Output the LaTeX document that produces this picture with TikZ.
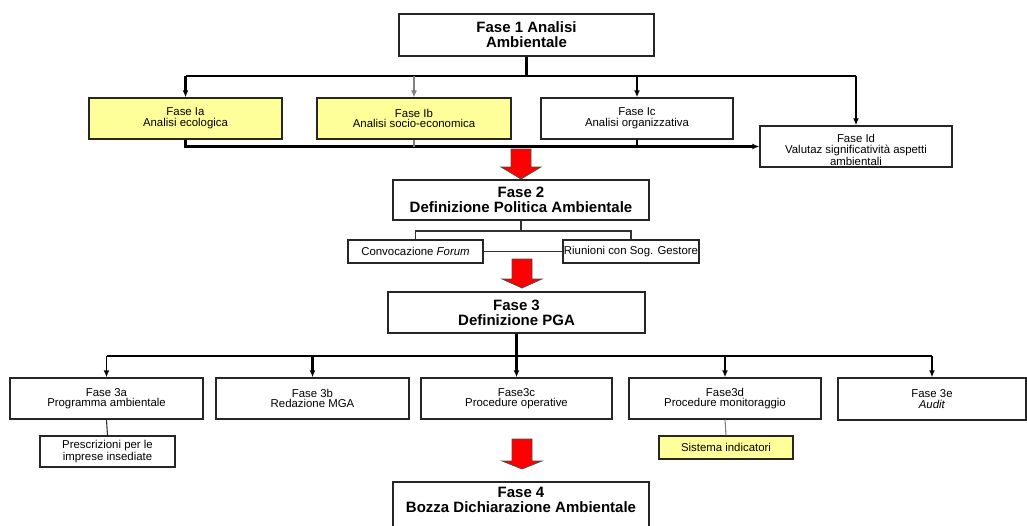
\documentclass[tikz,border=0pt]{standalone}
\usepackage{fontspec}
\setmainfont{Liberation Sans}
\usetikzlibrary{arrows.meta}
\definecolor{boxyellow}{RGB}{255,255,153}
\begin{document}
\begin{tikzpicture}[x=1pt,y=-1pt,
  box/.style={draw=black!85, line width=1.4pt, fill=white, inner sep=0pt, align=center, font=\fontsize{11.4}{10.5}\selectfont},
  ybox/.style={box, fill=boxyellow},
  bigbox/.style={box, font=\bfseries\fontsize{15}{15}\selectfont},
  conn/.style={line width=2.2pt, draw=black},
  mid/.style={line width=1.6pt, draw=black},
  thinl/.style={line width=1.1pt, draw=black!80},
  tip/.style={-{Latex[length=7pt,width=6pt]}},
  redarrow/.style={fill=red, draw=black!70, line width=0.7pt, line join=miter},
]
\useasboundingbox (0,0) rectangle (1027,525);

% Fase 1
\node[bigbox, minimum width=255pt, minimum height=42pt] (f1) at (526.5,35) {Fase 1 Analisi\\Ambientale};
\node[ybox, minimum width=193pt, minimum height=41pt] (ia) at (185.5,118.5) {Fase Ia\\Analisi ecologica};
\node[ybox, minimum width=194pt, minimum height=41pt] (ib) at (414,118.5) {Fase Ib\\Analisi socio-economica};
\node[box, minimum width=192pt, minimum height=41pt] (ic) at (637,118.5) {Fase Ic\\Analisi organizzativa};
\node[box, minimum width=192pt, minimum height=41pt, text height=37pt, text depth=0pt] (id) at (856,146.5) {Fase Id\\Valutaz significatività aspetti\\ambientali};

\coordinate (j1) at (526.5,76);
\draw[conn] (f1.south) -- (j1);
\draw[conn] (ia.north |- j1) -- (id.north |- j1);
\draw[conn,tip] (ia.north |- j1) -- (ia.north);
\draw[thinl,draw=gray,tip] (ib.north |- j1) -- (ib.north);
\draw[conn,tip] (ic.north |- j1) -- (ic.north);
\draw[conn,tip] (id.north |- j1) -- (id.north);
\draw[conn,tip] (ia.south) |- (id.west);
\draw[thinl,draw=gray] (ib.south) -- (ib.south |- id.west);
\draw[conn] (ic.south) -- (ic.south |- id.west);

\draw[redarrow] (511,149) -- (531,149) -- (531,167) -- (541,167) -- (521,179) -- (501,167) -- (511,167) -- cycle;

% Fase 2
\node[bigbox, minimum width=256pt, minimum height=40pt] (f2) at (521,200) {Fase 2\\Definizione Politica Ambientale};
\node[box, minimum width=135pt, minimum height=23pt] (conv) at (415.5,251.5) {Convocazione \textit{Forum}};
\node[box, minimum width=136pt, minimum height=23pt] (riun) at (631,251.5) {Riunioni con Sog. Gestore};
\coordinate (j3) at (521,231);
\draw[thinl] (f2.south) -- (j3);
\draw[thinl] (conv.north) |- (j3) -| (riun.north);
\draw[thinl] (conv.east) -- (riun.west);

\draw[redarrow] (512,259) -- (532,259) -- (532,279) -- (542,279) -- (522,288) -- (502,279) -- (512,279) -- cycle;

% Fase 3
\node[bigbox, minimum width=257pt, minimum height=41pt] (f3) at (516.5,312.5) {Fase 3\\Definizione PGA};
\node[box, minimum width=193pt, minimum height=41pt] (a3) at (106.5,398.5) {Fase 3a\\Programma ambientale};
\node[box, minimum width=193pt, minimum height=41pt] (b3) at (312.5,398.5) {Fase 3b\\Redazione MGA};
\node[box, minimum width=191pt, minimum height=41pt] (c3) at (516.5,398.5) {Fase3c\\Procedure operative};
\node[box, minimum width=192pt, minimum height=41pt] (d3) at (725,398.5) {Fase3d\\Procedure monitoraggio};
\node[box, minimum width=188pt, minimum height=42pt] (e3) at (932,399) {Fase 3e\\\textit{Audit}};
\node[box, minimum width=135pt, minimum height=31pt] (pres) at (107.5,451.5) {Prescrizioni per le\\imprese insediate};
\node[ybox, minimum width=134pt, minimum height=23pt] (sis) at (726,447.5) {Sistema indicatori};

\coordinate (j4) at (516.5,356);
\draw[line width=3pt] (f3.south) -- (j4);
\draw[conn] (a3.north |- j4) -- (j4);
\draw[mid] (j4) -- (e3.north |- j4);
\draw[mid,tip] (a3.north |- j4) -- (a3.north);
\draw[conn,tip] (b3.north |- j4) -- (b3.north);
\draw[conn,tip] (c3.north |- j4) -- (c3.north);
\draw[mid,tip] (d3.north |- j4) -- (d3.north);
\draw[mid,tip] (e3.north |- j4) -- (e3.north);
\draw[thinl] (a3.south) -- (pres.north);
\draw[thinl,draw=gray] (d3.south) -- (sis.north);

\draw[redarrow] (512,439) -- (532,439) -- (532,461) -- (542,461) -- (522,469) -- (502,461) -- (512,461) -- cycle;

% Fase 4
\node[box, minimum width=256pt, minimum height=58pt] (f4) at (521,511) {};
\node[font=\bfseries\fontsize{15}{15}\selectfont, align=center, inner sep=0pt] (f4t) at (521,500) {Fase 4\\Bozza Dichiarazione Ambientale};
\end{tikzpicture}
\end{document}
